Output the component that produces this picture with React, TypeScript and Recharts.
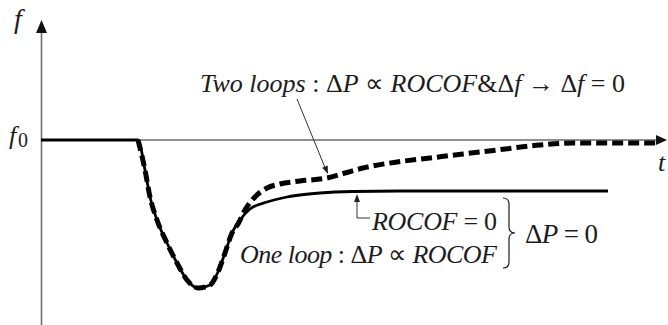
import React from "react";
import { ComposedChart, Line, XAxis, YAxis, ReferenceLine, ReferenceDot } from "recharts";

// time (t) and frequency deviation (f - f0) samples
const solidT = [0, 97, 104, 109, 116, 126, 136, 146, 157, 169, 177, 184, 191, 199, 209, 226, 246, 259, 279, 312, 359, 567];
const solidF = [0, 0, -30, -57, -80, -103, -123, -140, -148, -145, -132, -113, -93, -80, -69, -62, -57, -55, -53, -51.5, -51, -51];

const dashedT = [97, 104, 109, 116, 126, 136, 146, 157, 169, 177, 184, 191, 197, 204, 212, 226, 239, 259, 286, 304, 322, 356, 389, 422, 456, 499, 532, 569, 615];
const dashedF = [0, -30, -57, -80, -103, -123, -140, -148, -145, -132, -113, -93, -84, -70, -59, -48, -44, -41, -38, -33, -28, -22, -18, -14, -10, -5, -3, -3, -3];

const solidData = solidT.map((t, i) => ({ t, f: solidF[i] }));
const dashedData = dashedT.map((t, i) => ({ t, f: dashedF[i] }));

const FONT = "Liberation Serif";
const INK = "#1c1c1c";

type Part = [string, boolean];

const TextAt = (parts: Part[], size: number, width?: number) => (p: any) => (
  <text
    x={p.cx}
    y={p.cy}
    style={{ fontFamily: FONT, fontSize: size }}
    fill={INK}
    textLength={width}
    lengthAdjust={width ? "spacing" : undefined}
  >
    {parts.map(([s, it], i) => (
      <tspan key={i} style={{ fontStyle: it ? "italic" : "normal", fontFamily: FONT }}>
        {s}
      </tspan>
    ))}
  </text>
);

const ArrowHead = (angleDeg: number, len: number, half: number, color: string) => (p: any) => (
  <polygon
    points={`0,0 ${-len},${-half} ${-len},${half}`}
    transform={`translate(${p.cx},${p.cy}) rotate(${angleDeg})`}
    fill={color}
  />
);

const Brace = (p: any) => {
  const x = p.cx;
  const y = p.cy;
  const d = `M ${x - 12} ${y - 35} Q ${x - 6} ${y - 35} ${x - 6} ${y - 29} L ${x - 6} ${y - 6} Q ${x - 6} ${y} ${x} ${y} Q ${x - 6} ${y} ${x - 6} ${y + 6} L ${x - 6} ${y + 29} Q ${x - 6} ${y + 35} ${x - 12} ${y + 35}`;
  return <path d={d} fill="none" stroke={INK} strokeWidth={1.2} />;
};

const twoLoops: Part[] = [
  ["Two loops ", true],
  [": Δ", false],
  ["P", true],
  [" ∝ ", false],
  ["ROCOF", true],
  ["&Δ", false],
  ["f", true],
  [" → Δ", false],
  ["f", true],
  [" = 0", false],
];
const oneLoop: Part[] = [
  ["One loop ", true],
  [": Δ", false],
  ["P", true],
  [" ∝ ", false],
  ["ROCOF", true],
];
const rocofZero: Part[] = [
  ["ROCOF", true],
  [" = 0", false],
];
const dpZero: Part[] = [
  ["Δ", false],
  ["P", true],
  [" = 0", false],
];

const twoLoopAngle = (Math.atan2(75, 31) * 180) / Math.PI;

export default function App() {
  return (
    <div style={{ position: "absolute", left: 0, top: 0, width: 668, height: 325, background: "#fff" }}>
      <ComposedChart width={668} height={325} margin={{ top: 0, right: 0, bottom: 0, left: 0 }}>
        <XAxis type="number" dataKey="t" domain={[-41, 627]} hide allowDataOverflow />
        <YAxis type="number" dataKey="f" domain={[-185, 140]} hide allowDataOverflow />

        {/* axes */}
        <ReferenceLine segment={[{ x: 0.5, y: -185 }, { x: 0.5, y: 108 }]} stroke="#707070" strokeWidth={1.6} ifOverflow="visible" />
        <ReferenceDot x={0.5} y={120} r={0} ifOverflow="visible" shape={ArrowHead(-90, 13, 5.5, "#111")} />
        <ReferenceLine segment={[{ x: 0, y: 0 }, { x: 618, y: 0 }]} stroke="#222" strokeWidth={1.2} ifOverflow="visible" />
        <ReferenceDot x={626} y={0} r={0} ifOverflow="visible" shape={ArrowHead(0, 11, 5, "#111")} />

        <Line data={solidData} dataKey="f" type="monotone" stroke="#000" strokeWidth={2.8} dot={false} activeDot={false} legendType="none" isAnimationActive={false} />
        <Line data={dashedData} dataKey="f" type="monotone" stroke="#000" strokeWidth={5} strokeDasharray="11 5" dot={false} activeDot={false} legendType="none" isAnimationActive={false} />

        {/* two-loops pointer */}
        <ReferenceLine segment={[{ x: 256, y: 41 }, { x: 285, y: -30 }]} stroke="#333" strokeWidth={1} ifOverflow="visible" />
        <ReferenceDot x={287} y={-34} r={0} ifOverflow="visible" shape={ArrowHead(twoLoopAngle, 8, 3, "#222")} />

        {/* ROCOF = 0 pointer */}
        <ReferenceLine segment={[{ x: 316, y: -78 }, { x: 316, y: -58 }]} stroke="#333" strokeWidth={1} ifOverflow="visible" />
        <ReferenceLine segment={[{ x: 316, y: -78 }, { x: 329, y: -78 }]} stroke="#333" strokeWidth={1} ifOverflow="visible" />
        <ReferenceDot x={316} y={-54} r={0} ifOverflow="visible" shape={ArrowHead(-90, 8, 3, "#222")} />

        {/* brace */}
        <ReferenceDot x={474} y={-93} r={0} ifOverflow="visible" shape={Brace} />

        {/* labels */}
        <ReferenceDot x={-27} y={112} r={0} ifOverflow="visible" shape={TextAt([["f", true]], 28)} />
        <ReferenceDot x={-32} y={-4} r={0} ifOverflow="visible" shape={TextAt([["f", true]], 26)} />
        <ReferenceDot x={-23} y={-7} r={0} ifOverflow="visible" shape={TextAt([["0", false]], 20)} />
        <ReferenceDot x={617} y={-31} r={0} ifOverflow="visible" shape={TextAt([["t", true]], 26)} />
        <ReferenceDot x={159} y={48} r={0} ifOverflow="visible" shape={TextAt(twoLoops, 26, 425)} />
        <ReferenceDot x={331} y={-90} r={0} ifOverflow="visible" shape={TextAt(rocofZero, 26, 125)} />
        <ReferenceDot x={199} y={-123} r={0} ifOverflow="visible" shape={TextAt(oneLoop, 26, 257)} />
        <ReferenceDot x={484} y={-103} r={0} ifOverflow="visible" shape={TextAt(dpZero, 27, 73)} />
      </ComposedChart>
    </div>
  );
}
